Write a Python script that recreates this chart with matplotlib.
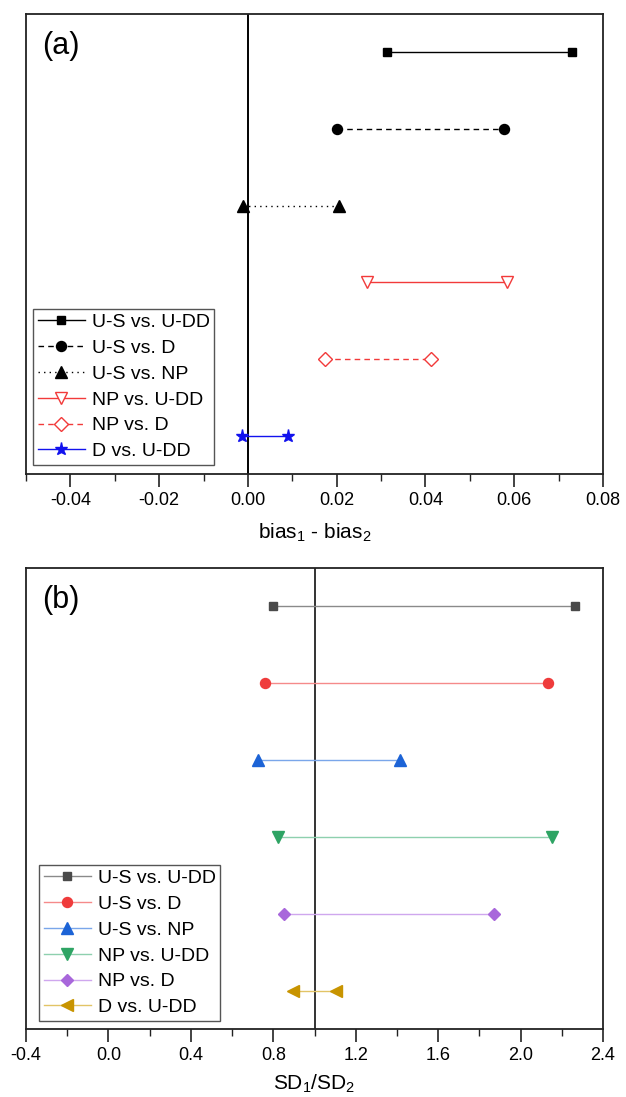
import matplotlib
matplotlib.use("Agg")
import matplotlib.pyplot as plt
from matplotlib.ticker import MultipleLocator
from matplotlib.lines import Line2D

plt.rcParams['font.family'] = ['Liberation Sans', 'DejaVu Sans']
plt.rcParams['mathtext.fontset'] = 'custom'
plt.rcParams['mathtext.rm'] = 'Liberation Sans'
plt.rcParams['mathtext.it'] = 'Liberation Sans'
plt.rcParams['mathtext.default'] = 'regular'

labels = ["U-S vs. U-DD", "U-S vs. D", "U-S vs. NP", "NP vs. U-DD", "NP vs. D", "D vs. U-DD"]
ypos = [6, 5, 4, 3, 2, 1]

bias_low = [0.0313, 0.0200, -0.0011, 0.0268, 0.0173, -0.0013]
bias_high = [0.0731, 0.0578, 0.0205, 0.0584, 0.0413, 0.0090]

sd_low = [0.80, 0.762, 0.725, 0.822, 0.851, 0.897]
sd_high = [2.266, 2.133, 1.416, 2.152, 1.870, 1.103]

# styles panel (a)
a_colors = ['black', 'black', 'black', '#f23a3a', '#f23a3a', '#1212ee']
a_ls = ['-', (0, (4, 3)), (0, (1, 3)), '-', (0, (4, 3)), '-']
a_markers = ['s', 'o', '^', 'v', 'D', '*']
a_fill = ['black', 'black', 'black', 'white', 'white', '#1212ee']
a_ms = [6.2, 7.2, 9, 9, 7, 9.5]

# styles panel (b)
b_mcolors = ['#4a4a4a', '#ef3b3b', '#1c63d6', '#2ea464', '#a867db', '#c89400']
b_lcolors = ['#8a8a8a', '#f58a8a', '#7aa6ea', '#8ed0ae', '#cfa7ee', '#e2c466']
b_markers = ['s', 'o', '^', 'v', 'D', '<']
b_ms = [6.3, 7.2, 8.6, 8.6, 6.4, 8]

W, H = 626, 1097
fig = plt.figure(figsize=(W / 100, H / 100), dpi=100)

ax_l = 26 / W
ax_w = 577 / W
axa = fig.add_axes([ax_l, 1 - 474 / H, ax_w, 460 / H])
axb = fig.add_axes([ax_l, 1 - 1029 / H, ax_w, 461 / H])

spine_col = '#222222'

def style_axis(ax):
    for s in ax.spines.values():
        s.set_linewidth(1.3)
        s.set_color(spine_col)
    ax.set_yticks([])
    ax.tick_params(axis='x', which='major', direction='out', length=9, width=1.2,
                   labelsize=13, pad=4, colors=spine_col, labelcolor='black')
    ax.tick_params(axis='x', which='minor', direction='out', length=5, width=1.0,
                   colors=spine_col)
    ax.set_ylim(0.5, 6.5)

leg_kw = dict(loc='lower left', borderaxespad=0, fontsize=14, frameon=True,
              fancybox=False, edgecolor='#555555', framealpha=1.0,
              handlelength=2.4, handletextpad=0.36, labelspacing=0.42,
              borderpad=0.25, numpoints=1)

# panel (a)
for i in range(6):
    axa.plot([bias_low[i], bias_high[i]], [ypos[i], ypos[i]], color=a_colors[i],
             linestyle=a_ls[i], linewidth=1.0, marker=a_markers[i],
             markersize=a_ms[i], markerfacecolor=a_fill[i],
             markeredgecolor=a_colors[i], markeredgewidth=1.0,
             label=labels[i], zorder=3)
axa.axvline(0, color='black', linewidth=1.4, zorder=1)
axa.set_xlim(-0.05, 0.08)
axa.xaxis.set_major_locator(MultipleLocator(0.02))
axa.xaxis.set_minor_locator(MultipleLocator(0.01))
axa.xaxis.set_major_formatter(plt.FuncFormatter(lambda v, p: f"{v:.2f}"))
style_axis(axa)
axa.set_xlabel("bias$_1$ - bias$_2$", fontsize=15, labelpad=9)
axa.text(0.028, 0.930, "(a)", transform=axa.transAxes, fontsize=22, va='center', ha='left')
leg = axa.legend(bbox_to_anchor=(0.0121, 0.0196), **leg_kw)
leg.get_frame().set_linewidth(1.0)

# panel (b)
for i in range(6):
    axb.plot([sd_low[i], sd_high[i]], [ypos[i], ypos[i]], color=b_lcolors[i],
             linestyle='-', linewidth=1.0, zorder=2)
    axb.plot([sd_low[i], sd_high[i]], [ypos[i], ypos[i]], linestyle='none',
             marker=b_markers[i], markersize=b_ms[i], markerfacecolor=b_mcolors[i],
             markeredgecolor=b_mcolors[i], zorder=3)
axb.axvline(1.0, color='#333333', linewidth=1.4, zorder=1)
axb.set_xlim(-0.4, 2.4)
axb.xaxis.set_major_locator(MultipleLocator(0.4))
axb.xaxis.set_minor_locator(MultipleLocator(0.2))
axb.xaxis.set_major_formatter(plt.FuncFormatter(lambda v, p: f"{v:.1f}"))
style_axis(axb)
axb.set_xlabel("SD$_1$/SD$_2$", fontsize=15, labelpad=6)
axb.text(0.028, 0.930, "(b)", transform=axb.transAxes, fontsize=22, va='center', ha='left')

handles = [Line2D([0], [0], color=b_lcolors[i], linewidth=1.0, marker=b_markers[i],
                  markersize=b_ms[i], markerfacecolor=b_mcolors[i],
                  markeredgecolor=b_mcolors[i]) for i in range(6)]
legb = axb.legend(handles, labels, bbox_to_anchor=(0.0225, 0.0174), **leg_kw)
legb.get_frame().set_linewidth(1.0)

fig.savefig("out.png", dpi=100, facecolor='white')
